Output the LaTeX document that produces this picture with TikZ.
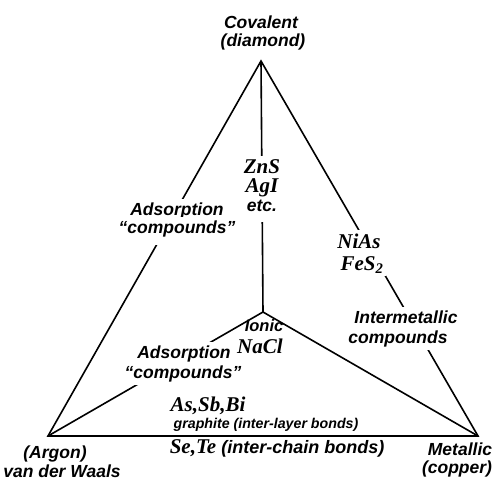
\documentclass[tikz,border=0pt]{standalone}
\usepackage{fontspec}
\setmainfont{Liberation Sans}
\newfontfamily\fmlfont{Liberation Serif}
\begin{document}
\begin{tikzpicture}[x=1pt,y=-1pt,line width=1.6pt,
  txt/.style={font=\bfseries\itshape\fontsize{17.5}{19}\selectfont, inner sep=3pt, anchor=base},
  vtx/.style={txt, inner sep=1pt},
  small/.style={font=\bfseries\itshape\fontsize{14.2}{17}\selectfont, inner sep=1pt, anchor=base},
  fml/.style={font=\fmlfont\bfseries\itshape\fontsize{21}{23}\selectfont, inner sep=3pt, anchor=base},
  gap/.style={fill=white}]
\useasboundingbox (0,0) rectangle (493,483);
% vertices
\coordinate (T) at (261,61);
\coordinate (L) at (48,436);
\coordinate (R) at (478,436);
\coordinate (C) at (263,312);
% edges
\draw (T) -- (L) -- (R) -- cycle;
\draw (T) -- (C);
\draw (C) -- (L);
\draw (C) -- (R);
% vertex labels
\node[vtx] (cov) at (261,28) {Covalent};
\node[vtx] (dia) at (263,46) {(diamond)};
\node[vtx] (arg) at (55,458) {(Argon)};
\node[vtx] (vdw) at (62,477) {van der Waals};
\node[vtx] (met) at (460,455) {Metallic};
\node[vtx] (cop) at (457,473) {(copper)};
% vertical line labels
\node[fml,gap] (zns) at (262,173) {ZnS};
\node[fml,gap,text depth=5pt] (agi) at (262,192) {AgI};
\node[txt,gap,text depth=8pt] (etc) at (262,211) {etc.};
% left edge labels
\node[txt,gap,text depth=6pt] (ads1) at (177,215) {Adsorption};
\node[txt,gap,text depth=9pt] (cmp1) at (177,233) {``compounds''};
% right edge labels
\node[fml,gap,text depth=6pt] (nias) at (359,248) {NiAs};
\node[fml,gap] (fes) at (362,270) {FeS\textsubscript{2}};
\node[txt,gap,text depth=6pt] (inter) at (406,323) {Intermetallic};
\node[txt,gap] (cmp3) at (398,343) {compounds};
% centre-left labels
\node[txt,gap,text depth=6pt] (ads2) at (184,358) {Adsorption};
\node[txt,gap] (cmp2) at (183,378) {``compounds''};
% centre labels
\node[txt,font=\bfseries\itshape\fontsize{16.5}{18}\selectfont] (ion) at (264,331) {Ionic};
\node[fml] (nacl) at (260,353) {NaCl};
% bottom labels
\node[fml] (asb) at (208,411) {As,Sb,Bi};
\node[small] (gra) at (266,428) {graphite (inter-layer bonds)};
\node[small,anchor=base west,font=\bfseries\itshape\fontsize{18}{20}\selectfont] (sete) at (168,453) {{\fmlfont\bfseries\fontsize{21}{23}\selectfont Se,Te} (inter-chain bonds)};
\end{tikzpicture}
\end{document}
